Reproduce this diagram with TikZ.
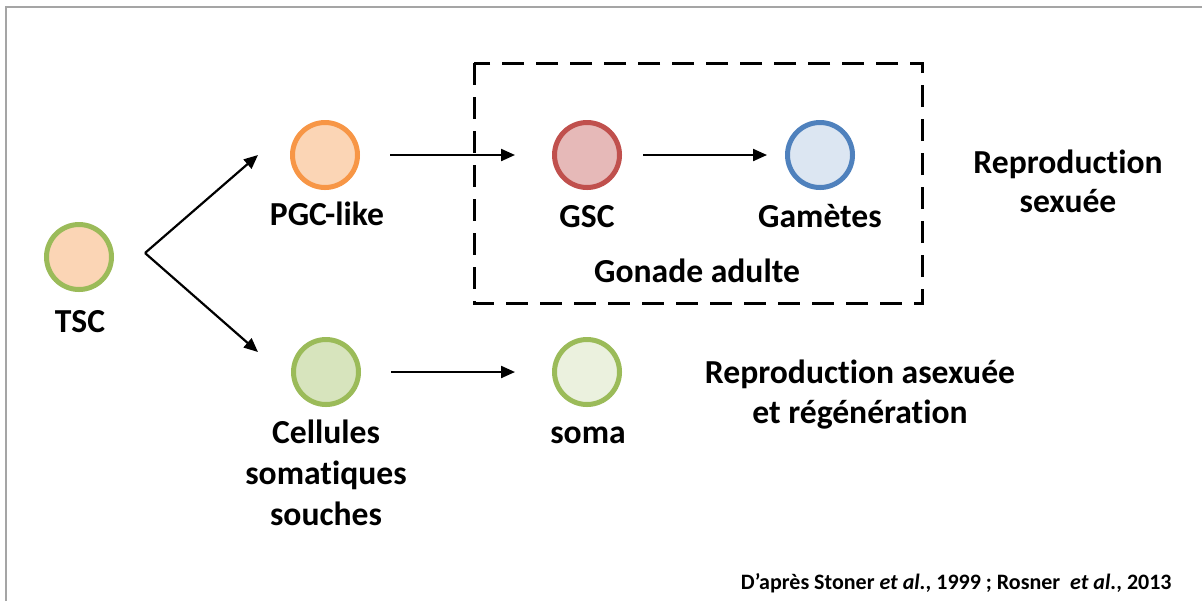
\documentclass[tikz,border=0pt]{standalone}
\usepackage{fontspec}
\setmainfont{Carlito}[Ligatures=NoCommon]
\usetikzlibrary{arrows.meta}
\definecolor{tscFill}{RGB}{251,213,181}
\definecolor{leafGreen}{RGB}{155,187,89}
\definecolor{pgcOrange}{RGB}{247,150,70}
\definecolor{gscRed}{RGB}{192,80,77}
\definecolor{gscFill}{RGB}{230,185,184}
\definecolor{gamBlue}{RGB}{79,129,189}
\definecolor{gamFill}{RGB}{220,230,242}
\definecolor{somFill}{RGB}{215,228,189}
\definecolor{somaFill}{RGB}{235,241,222}
\definecolor{frameGray}{RGB}{165,165,165}

\begin{document}
\begin{tikzpicture}[x=0.5pt,y=-0.5pt,
  cell/.style={circle,draw,line width=2.5pt,minimum size=32.5pt,inner sep=0pt},
  lbl/.style={font=\fontsize{16.8}{20.5}\selectfont\bfseries,align=center,anchor=base,inner sep=0pt},
  flow/.style={-{Triangle[length=7pt,width=6pt]},line width=1.1pt}]
  \useasboundingbox (0,0) rectangle (1202,601);

  % Frame (top and left edges only)
  \draw[frameGray,line width=1pt] (6,601) -- (6,7) -- (1202,7);

  % Adult gonad box
  \draw[line width=1.5pt,dash pattern=on 11pt off 6pt] (474,63) rectangle (922,303);

  % Cells
  \node[cell,draw=leafGreen,fill=tscFill] (tsc) at (79,257) {};
  \node[cell,draw=pgcOrange,fill=tscFill] (pgc) at (325,155) {};
  \node[cell,draw=gscRed,fill=gscFill] (gsc) at (587,155) {};
  \node[cell,draw=gamBlue,fill=gamFill] (gam) at (820,155) {};
  \node[cell,draw=leafGreen,fill=somFill] (csom) at (326,372) {};
  \node[cell,draw=leafGreen,fill=somaFill] (soma) at (587,372) {};

  % Labels (multi-line: base = last line)
  \node[lbl] (tsclbl) at (80,332) {TSC};
  \node[lbl] (pgclbl) at (327,225) {PGC-like};
  \node[lbl] (gsclbl) at (587,227) {GSC};
  \node[lbl] (gamlbl) at (820,227) {Gamètes};
  \node[lbl] (gonlbl) at (697,282) {Gonade adulte};
  \node[lbl] (csomlbl) at (326,525) {Cellules\\somatiques\\souches};
  \node[lbl] (somalbl) at (588,443) {soma};
  \node[lbl,font=\fontsize{16.8}{19.5}\selectfont\bfseries] (sexlbl) at (1068,212) {Reproduction\\sexuée};
  \node[lbl,font=\fontsize{16.8}{20}\selectfont\bfseries] (asexlbl) at (860,423) {Reproduction asexuée\\et régénération};

  % Arrows
  \coordinate (fork) at (145,253);
  \coordinate (upTip) at (258,155);
  \coordinate (downTip) at (258,352);
  \draw[flow] (fork) -- (upTip);
  \draw[flow] (fork) -- (downTip);
  \draw[flow,shorten <=15pt,shorten >=18.5pt] (pgc) -- (gsc);
  \draw[flow,shorten <=10.5pt,shorten >=9pt] (gsc) -- (gam);
  \draw[flow,shorten <=15pt,shorten >=18.5pt] (csom) -- (soma);

  % Reference
  \node[font=\fontsize{11}{13}\selectfont\bfseries,anchor=base east,inner sep=0pt] (ref) at (1172,589)
    {D’après Stoner \textit{et al.}, 1999 ; Rosner \ \textit{et al.}, 2013};
\end{tikzpicture}
\end{document}
